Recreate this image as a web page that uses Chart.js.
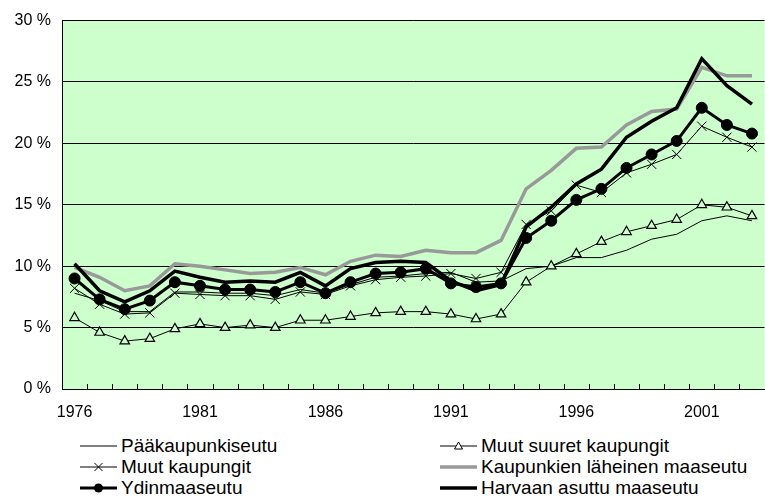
<!DOCTYPE html>
<html>
<head>
<meta charset="utf-8">
<title>Työttömyysaste aluetyypeittäin 1976–2003</title>
<script src="https://cdn.jsdelivr.net/npm/chart.js@4.4.1/dist/chart.umd.min.js"></script>
<style>
    html, body {
        margin: 0;
        padding: 0;
        background: #fff;
        overflow: hidden;
        width: 765px;
        height: 497px;
    }
    #wrap {
        position: relative;
        width: 765px;
        height: 497px;
    }
    #chart {
        position: absolute;
        left: 0;
        top: 0;
    }
    .legend-item {
        position: absolute;
        height: 22px;
        display: flex;
        align-items: center;
        font-family: "Liberation Sans", Arial, sans-serif;
        font-size: 19px;
        color: #000;
        white-space: nowrap;
    }
    .legend-item svg {
        margin-right: 4px;
    }
</style>
</head>
<body>
<div id="wrap">
    <canvas id="chart" width="772" height="420"></canvas>
    <div id="legend"></div>
</div>

<script>
// Data: share of unemployed (%) by region type, 1976-2003
const years = [
    1976, 1977, 1978, 1979, 1980, 1981, 1982, 1983, 1984, 1985,
    1986, 1987, 1988, 1989, 1990, 1991, 1992, 1993, 1994, 1995,
    1996, 1997, 1998, 1999, 2000, 2001, 2002, 2003
];

const seriesNames = [
    'Pääkaupunkiseutu',
    'Muut suuret kaupungit',
    'Muut kaupungit',
    'Kaupunkien läheinen maaseutu',
    'Ydinmaaseutu',
    'Harvaan asuttu maaseutu'
];

const paakaupunkiseutu = [
    7.8, 7.2, 6.3, 6.3, 7.9, 7.9, 7.8, 7.8, 7.6, 8.1,
    7.8, 8.5, 9.1, 9.2, 9.4, 9.5, 8.7, 8.8, 9.8, 10.0,
    10.7, 10.7, 11.3, 12.2, 12.6, 13.7, 14.1, 13.7
];

const muutSuuretKaupungit = [
    5.8, 4.6, 3.9, 4.1, 4.9, 5.3, 5.0, 5.2, 5.0, 5.6,
    5.6, 5.9, 6.2, 6.3, 6.3, 6.1, 5.7, 6.1, 8.7, 10.0,
    11.0, 12.0, 12.8, 13.3, 13.8, 15.0, 14.8, 14.1
];

const muutKaupungit = [
    8.2, 6.9, 6.1, 6.2, 7.8, 7.7, 7.6, 7.6, 7.3, 7.9,
    7.7, 8.4, 8.9, 9.1, 9.2, 9.4, 9.0, 9.5, 13.4, 14.5,
    16.6, 16.0, 17.6, 18.3, 19.1, 21.4, 20.5, 19.7
];

const kaupunkienLaheinen = [
    9.9, 9.1, 8.0, 8.4, 10.2, 10.0, 9.7, 9.4, 9.5, 9.9,
    9.3, 10.4, 10.9, 10.8, 11.3, 11.1, 11.1, 12.1, 16.3, 17.8,
    19.6, 19.7, 21.5, 22.6, 22.8, 26.2, 25.5, 25.5
];

const ydinmaaseutu = [
    9.0, 7.3, 6.5, 7.2, 8.7, 8.4, 8.1, 8.1, 7.9, 8.7,
    7.8, 8.7, 9.4, 9.5, 9.8, 8.6, 8.3, 8.6, 12.3, 13.7,
    15.4, 16.3, 18.0, 19.1, 20.2, 22.9, 21.5, 20.8
];

const harvaanAsuttu = [
    10.2, 8.0, 7.1, 8.0, 9.6, 9.1, 8.7, 8.8, 8.7, 9.5,
    8.4, 9.8, 10.3, 10.4, 10.3, 8.8, 8.0, 8.5, 13.2, 14.8,
    16.7, 17.9, 20.5, 21.8, 22.9, 26.9, 24.7, 23.2
];

const yTicks = [0, 5, 10, 15, 20, 25, 30];

const PLOT_BG = '#CCFFCC';
const FONT = '"Liberation Sans", Arial, sans-serif';

document.addEventListener('DOMContentLoaded', function() {
    const chart = createChart();
    buildLegend(chart);
});

/**
 * Plot area background and inward tick marks on the x axis
 */
const plotDecor = {
    id: 'plotDecor',
    beforeDraw(chart) {
        const { ctx, chartArea } = chart;
        ctx.save();
        ctx.fillStyle = PLOT_BG;
        ctx.fillRect(chartArea.left, chartArea.top,
            chartArea.right - chartArea.left, chartArea.bottom - chartArea.top);
        ctx.restore();
    },
    afterDatasetsDraw(chart) {
        const { ctx, chartArea } = chart;
        const x = chart.scales.x;
        ctx.save();
        ctx.strokeStyle = '#000';
        ctx.lineWidth = 1;
        ctx.beginPath();
        for (let i = 0; i <= years.length; i++) {
            const px = Math.round(x.getPixelForValue(i - 0.5)) + 0.5;
            ctx.moveTo(px, chartArea.bottom);
            ctx.lineTo(px, chartArea.bottom - 5);
        }
        ctx.stroke();
        ctx.restore();
    }
};

function createChart() {
    const ctx = document.getElementById('chart');

    const datasets = [{
        label: seriesNames[0],
        data: paakaupunkiseutu,
        borderColor: '#000',
        borderWidth: 1,
        pointRadius: 0
    }, {
        label: seriesNames[1],
        data: muutSuuretKaupungit,
        borderColor: '#000',
        borderWidth: 1,
        pointStyle: 'triangle',
        pointRadius: 5.5,
        pointBackgroundColor: PLOT_BG,
        pointBorderColor: '#000',
        pointBorderWidth: 1.2
    }, {
        label: seriesNames[2],
        data: muutKaupungit,
        borderColor: '#000',
        borderWidth: 1,
        pointStyle: 'crossRot',
        pointRadius: 6.5,
        pointBorderColor: '#000',
        pointBorderWidth: 1
    }, {
        label: seriesNames[3],
        data: kaupunkienLaheinen,
        borderColor: '#999999',
        borderWidth: 3.5,
        pointRadius: 0
    }, {
        label: seriesNames[4],
        data: ydinmaaseutu,
        borderColor: '#000',
        borderWidth: 3,
        pointStyle: 'circle',
        pointRadius: 5.5,
        pointBackgroundColor: '#000',
        pointBorderColor: '#000',
        pointBorderWidth: 1
    }, {
        label: seriesNames[5],
        data: harvaanAsuttu,
        borderColor: '#000',
        borderWidth: 3.5,
        pointRadius: 0
    }];

    // later series drawn on top, like the original
    datasets.forEach(function(ds, i) {
        ds.order = datasets.length - i;
        ds.tension = 0;
        ds.fill = false;
        ds.pointHoverRadius = ds.pointRadius;
    });

    return new Chart(ctx, {
        type: 'line',
        data: {
            labels: years.map(String),
            datasets: datasets
        },
        options: {
            responsive: false,
            animation: false,
            devicePixelRatio: 1,
            layout: {
                padding: { top: 20, left: 0, right: 0, bottom: 0 }
            },
            plugins: {
                legend: { display: false },
                tooltip: { enabled: false }
            },
            scales: {
                x: {
                    type: 'category',
                    offset: true,
                    grid: {
                        display: false,
                        drawTicks: false
                    },
                    border: {
                        display: true,
                        color: '#000',
                        width: 1
                    },
                    ticks: {
                        autoSkip: false,
                        maxRotation: 0,
                        padding: 14,
                        color: '#000',
                        font: { family: FONT, size: 16 },
                        callback: function(value, index) {
                            return (years[index] - years[0]) % 5 === 0 ? String(years[index]) : '';
                        }
                    },
                    afterFit: function(scale) {
                        scale.height = 31;
                    }
                },
                y: {
                    min: yTicks[0],
                    max: yTicks[yTicks.length - 1],
                    afterBuildTicks: function(scale) {
                        scale.ticks = yTicks.map(function(v) { return { value: v }; });
                    },
                    grid: {
                        color: '#000',
                        lineWidth: 1,
                        drawTicks: false
                    },
                    border: {
                        display: true,
                        color: '#000',
                        width: 1
                    },
                    ticks: {
                        padding: 11,
                        color: '#000',
                        font: { family: FONT, size: 16 },
                        callback: function(value) {
                            return value + ' %';
                        }
                    },
                    afterFit: function(scale) {
                        scale.width = 62;
                    }
                }
            }
        },
        plugins: [plotDecor]
    });
}

/**
 * Two-column legend below the chart, built from the datasets
 */
function buildLegend(chart) {
    const legend = document.getElementById('legend');
    const columns = [80, 440];
    const rows = [435, 456, 477];

    chart.data.datasets.forEach(function(ds, i) {
        const item = document.createElement('div');
        item.className = 'legend-item';
        item.style.left = columns[i % 2] + 'px';
        item.style.top = rows[Math.floor(i / 2)] + 'px';

        const w = 37, h = 14, cy = 7;
        let marker = '';
        if (ds.pointStyle === 'triangle') {
            marker = '<polygon points="18.5,3 22.5,10 14.5,10" fill="#fff" stroke="#000" stroke-width="1"/>';
        } else if (ds.pointStyle === 'crossRot') {
            marker = '<path d="M14.5,3 L22.5,11 M22.5,3 L14.5,11" stroke="#000" stroke-width="1"/>';
        } else if (ds.pointStyle === 'circle') {
            marker = '<circle cx="18.5" cy="7" r="4.5" fill="#000"/>';
        }
        const lw = Math.min(ds.borderWidth, 3.5);
        item.innerHTML =
            '<svg width="' + w + '" height="' + h + '">' +
            '<line x1="0" y1="' + cy + '" x2="' + w + '" y2="' + cy + '" stroke="' + ds.borderColor +
            '" stroke-width="' + lw + '"/>' + marker + '</svg>' +
            '<span>' + ds.label + '</span>';
        legend.appendChild(item);
    });
}
</script>
</body>
</html>
